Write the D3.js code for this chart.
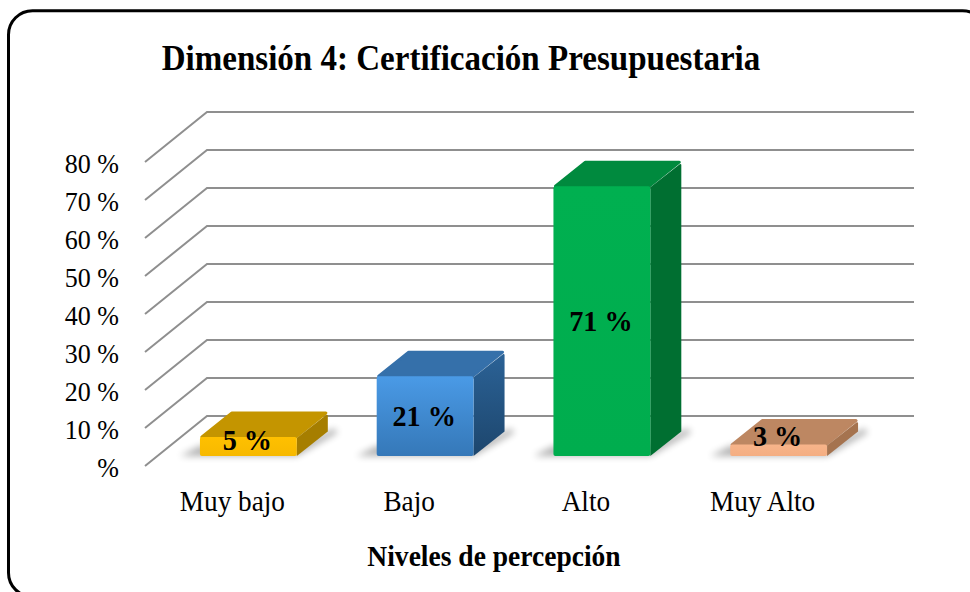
<!DOCTYPE html>
<html>
<head>
<meta charset="utf-8">
<script src="https://cdn.jsdelivr.net/npm/d3@7"></script>
<style>
  html, body { margin: 0; padding: 0; background: #fff; }
  svg { display: block; }
  text { font-family: "Liberation Serif", serif; fill: #000; }
</style>
</head>
<body>
<svg id="chart" width="970" height="592"></svg>
<script>
var categories = ["Muy bajo", "Bajo", "Alto", "Muy Alto"];
var values = [5, 21, 71, 3];
var valueLabels = ["5 %", "21 %", "71 %", "3 %"];
var yTicks = [0, 10, 20, 30, 40, 50, 60, 70, 80];
var yTickLabels = ["%", "10 %", "20 %", "30 %", "40 %", "50 %", "60 %", "70 %", "80 %"];
var frontColors = ["#ffc000", "#4a9ae6", "#00b050", "#f7b48a"];
var frontColorsLow = ["#f7b900", "#3578b8", "#00ad4e", "#f4ae82"];
var topColors = ["#c49500", "#3570aa", "#008a3e", "#bd8762"];
var sideColors = ["#a67e00", "#2b6296", "#006f31", "#a5734f"];
var sideColorsLow = ["#a67e00", "#1d466d", "#006f31", "#a5734f"];

var svg = d3.select("#chart");
var defs = svg.append("defs");

defs.append("filter").attr("id", "blur")
    .attr("x", "-30%").attr("y", "-30%").attr("width", "160%").attr("height", "160%")
  .append("feGaussianBlur").attr("stdDeviation", 3.5);

// Times here is set tall and narrow, so every label gets squeezed sideways
function label(sel, px, py, size, squeeze) {
  sel.attr("transform", function(d, i) {
        var tx = typeof px == "function" ? px(d, i) : px;
        var ty = typeof py == "function" ? py(d, i) : py;
        return "translate(" + tx + "," + ty + ") scale(" + squeeze + ",1)";
      })
     .attr("font-size", size);
  return sel;
}

/* frame, runs past the photo on the right and bottom */
svg.append("rect")
    .attr("x", 8.5).attr("y", 10.7)
    .attr("width", 978).attr("height", 586)
    .attr("rx", 24)
    .attr("fill", "#fff")
    .attr("stroke", "#000")
    .attr("stroke-width", 3);

svg.append("text")
    .call(label, 461, 70, 36, 0.918)
    .attr("text-anchor", "middle")
    .attr("font-weight", "bold")
    .text("Dimensión 4: Certificación Presupuestaria");

/* walls: front edge and back edge of the floor */
var wallDx = 62, wallDy = -50;
var frontX = 145, backRight = 914;

var y = d3.scaleLinear().domain([0, 80]).range([466, 162]);

var x = d3.scaleBand()
    .domain(categories)
    .range([160, 867])
    .paddingInner(0.452)
    .paddingOuter(0.226);

var barBase = 456, depthX = 31, depthY = -25.5;
var h = function(v) { return y(0) - y(v); };

var grid = svg.append("g").attr("fill", "none")
    .attr("stroke", "#8f8f8f").attr("stroke-width", 2);

grid.selectAll("path").data(yTicks).enter().append("path")
    .attr("d", function(d) {
      return d3.line()([
        [frontX, y(d)],
        [frontX + wallDx, y(d) + wallDy],
        [backRight, y(d) + wallDy]
      ]);
    });

svg.append("g").selectAll("text").data(yTicks).enter().append("text")
    .call(label, 119, function(d) { return y(d) + 11; }, 28, 0.93)
    .attr("text-anchor", "end")
    .text(function(d, i) { return yTickLabels[i]; });

/* gradients for the bar faces */
categories.forEach(function(c, i) {
  var g = defs.append("linearGradient").attr("id", "front" + i)
      .attr("x1", 0).attr("y1", 0).attr("x2", 0).attr("y2", 1);
  g.append("stop").attr("offset", "0%").attr("stop-color", frontColors[i]);
  g.append("stop").attr("offset", "100%").attr("stop-color", frontColorsLow[i]);
  var s = defs.append("linearGradient").attr("id", "side" + i)
      .attr("x1", 0).attr("y1", 0).attr("x2", 0).attr("y2", 1);
  s.append("stop").attr("offset", "0%").attr("stop-color", sideColors[i]);
  s.append("stop").attr("offset", "100%").attr("stop-color", sideColorsLow[i]);
});

var bars = svg.append("g").selectAll("g").data(values).enter().append("g");

function bx(i) { return x(categories[i]); }

/* floor shadow */
bars.append("path")
    .attr("fill", "#000").attr("opacity", 0.3)
    .attr("filter", "url(#blur)")
    .attr("d", function(d, i) {
      var l = bx(i), r = l + x.bandwidth();
      return d3.line()([
        [l - 20, barBase],
        [r, barBase],
        [r + depthX + 10, barBase + depthY + 2],
        [r + depthX + 6, barBase + depthY - 2],
        [r, barBase - 10],
        [l, barBase - 10]
      ]) + "Z";
    });

/* top */
bars.append("path")
    .attr("fill", function(d, i) { return topColors[i]; })
    .attr("stroke", function(d, i) { return topColors[i]; })
    .attr("stroke-linejoin", "round").attr("stroke-width", 3)
    .attr("d", function(d, i) {
      var l = bx(i), r = l + x.bandwidth(), t = barBase - h(d);
      return d3.line()([[l + 2, t], [r - 1, t], [r + depthX - 2, t + depthY + 1.5], [l + depthX + 1, t + depthY + 1.5]]) + "Z";
    });

/* side */
bars.append("path")
    .attr("fill", function(d, i) { return "url(#side" + i + ")"; })
    .attr("d", function(d, i) {
      var r = bx(i) + x.bandwidth(), t = barBase - h(d);
      return d3.line()([[r, t + 1], [r + depthX - 1, t + depthY + 3], [r + depthX, t + depthY + 4], [r + depthX, barBase + depthY + 1], [r, barBase]]) + "Z";
    });

/* front */
bars.append("rect")
    .attr("x", function(d, i) { return bx(i); })
    .attr("y", function(d) { return barBase - h(d); })
    .attr("width", x.bandwidth())
    .attr("height", function(d) { return h(d); })
    .attr("rx", 2)
    .attr("fill", function(d, i) { return "url(#front" + i + ")"; });

/* value labels */
var labelRise = [6, 30, 125, 10];
svg.append("g").selectAll("text").data(valueLabels).enter().append("text")
    .call(label, function(d, i) { return bx(i) + x.bandwidth() / 2 - 1; },
          function(d, i) { return barBase - labelRise[i]; }, 30, 0.94)
    .attr("text-anchor", "middle")
    .attr("font-weight", "bold")
    .text(function(d) { return d; });

/* category labels */
svg.append("g").selectAll("text").data(categories).enter().append("text")
    .call(label, function(d) { return x(d) + x.bandwidth() / 2 - 16; }, 511, 29, 0.94)
    .attr("text-anchor", "middle")
    .text(function(d) { return d; });

svg.append("text")
    .call(label, 494, 566, 29, 0.95)
    .attr("text-anchor", "middle")
    .attr("font-weight", "bold")
    .text("Niveles de percepción");
</script>
</body>
</html>
